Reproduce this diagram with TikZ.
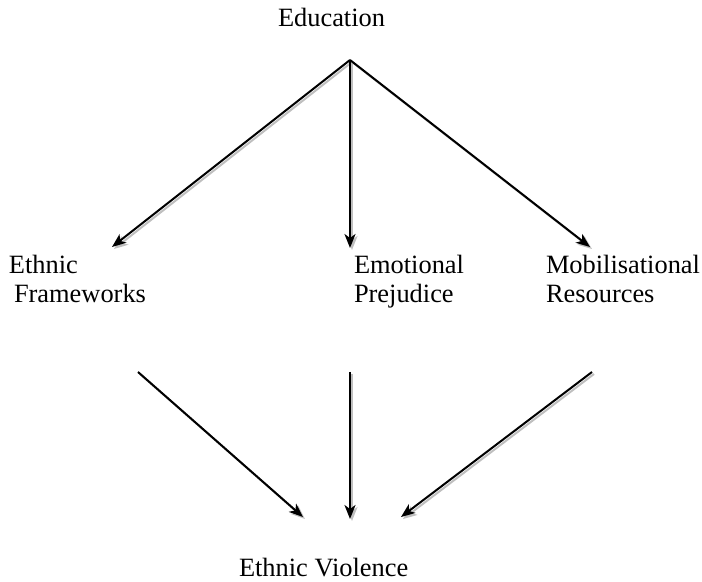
\documentclass[tikz,border=0pt]{standalone}
\usepackage{fontspec}
\setmainfont{Liberation Serif}
\usetikzlibrary{arrows.meta}

\begin{document}
\begin{tikzpicture}[x=0.5pt,y=-0.5pt,->,>={Stealth[length=7pt,width=5.5pt,inset=2pt]},line width=1pt,
    txt node/.style={inner sep=0pt,anchor=base west,align=left,font=\fontsize{13.2}{14.5}\selectfont},
    shadowed/.style={preaction={draw=black!25,transform canvas={shift={(1pt,-1pt)}}}}]

  \useasboundingbox (0,0) rectangle (702,582);

  \node[txt node] (edu) at (277,27) {Education};
  \node[txt node] (frame) at (8,303) {Ethnic\\\hspace{2.5pt}Frameworks};
  \node[txt node] (prej) at (353,303) {Emotional\\Prejudice};
  \node[txt node] (mobil) at (545,303) {Mobilisational\\Resources};
  \node[txt node] (viol) at (238,577) {Ethnic Violence};

  % arrow ends
  \coordinate (apex) at (350,60);
  \coordinate (frame in) at (112,247);
  \coordinate (prej in) at (350,248);
  \coordinate (mobil in) at (590,247);
  \coordinate (frame out) at (138,372);
  \coordinate (prej out) at (350,372);
  \coordinate (mobil out) at (592,372);
  \coordinate (viol l) at (303,517);
  \coordinate (viol m) at (350,519);
  \coordinate (viol r) at (401,517);

  \path (apex) edge[shadowed] (frame in)
        (apex) edge[shadowed] (prej in)
        (apex) edge[shadowed] (mobil in)
        (frame out) edge[shadowed] (viol l)
        (prej out) edge[shadowed] (viol m)
        (mobil out) edge[shadowed] (viol r)
        ;

\end{tikzpicture}
\end{document}
